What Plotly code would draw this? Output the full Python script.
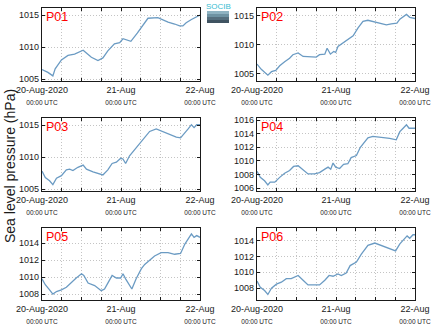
import datetime as dt
import plotly.graph_objects as go

START = dt.datetime(2020, 8, 20, 0, 0)

panel_names = ["P01", "P02", "P03", "P04", "P05", "P06"]

# hour offsets from 20-Aug-2020 00:00 UTC and sea level pressure (hPa)
p01_hours = [0, 1.8, 3.3, 4, 5.9, 7.9, 9.9, 12.5, 15, 17, 18.5, 20, 22, 23.6, 24.6, 27, 29, 31.2,
             32.2, 35.2, 38.3, 40.3, 41.8, 42.8, 43.8, 45.4, 46.9, 48]
p01_vals = [1006.5, 1006.05, 1005.5, 1006.6, 1008.0, 1008.7, 1008.9, 1009.5, 1008.4, 1007.9, 1008.3,
            1009.4, 1010.5, 1010.7, 1011.3, 1010.9, 1012.2, 1013.7, 1014.5, 1014.6, 1013.9, 1013.6,
            1013.3, 1013.3, 1013.8, 1014.3, 1014.7, 1015.0]

p02_hours = [0, 1.3, 3.3, 4.4, 5.7, 6.9, 8.4, 9.9, 10.9, 12.5, 14, 16, 18, 19, 20.6, 21.3, 22.3, 23.3,
             23.9, 24.6, 26.1, 28.1, 29.2, 30.7, 32.2, 33.7, 35.8, 37.8, 39.3, 40.8, 42.5, 43.4,
             45.4, 46.4, 48]
p02_vals = [1006.7, 1005.8, 1004.8, 1005.4, 1005.6, 1006.4, 1007.1, 1007.7, 1008.3, 1008.6, 1008.0,
            1008.0, 1007.9, 1008.3, 1008.4, 1009.4, 1008.4, 1008.85, 1008.7, 1009.7, 1010.3, 1011.1,
            1011.55, 1012.9, 1014.0, 1014.2, 1013.9, 1013.7, 1013.4, 1013.6, 1013.7, 1014.4,
            1015.2, 1014.7, 1014.5]

p03_hours = [0, 1, 2.3, 3.3, 4.4, 5.9, 7.4, 8.4, 9.4, 10.9, 12.5, 13.5, 15.5, 17.5, 18.5, 20, 21.3,
             22.6, 23.9, 24.6, 25.4, 26.6, 28.1, 29.6, 31.2, 32.7, 34.7, 36.7, 38.8, 40.8, 42.1,
             43.4, 44.4, 45.4, 46.2, 47, 48]
p03_vals = [1007.8, 1006.8, 1006.3, 1005.7, 1006.7, 1007.1, 1008.0, 1008.1, 1007.9, 1008.4, 1008.75,
            1008.1, 1007.7, 1007.3, 1007.2, 1008.0, 1009.0, 1009.2, 1009.8, 1009.7, 1009.0, 1010.2,
            1011.1, 1012.0, 1013.1, 1014.0, 1014.4, 1014.0, 1013.5, 1013.1, 1013.0, 1013.9, 1014.4,
            1015.05, 1014.6, 1015.05, 1015.05]

p04_hours = [0, 1, 2.3, 3.3, 4, 5.4, 6.9, 8.4, 9.9, 11.1, 12.5, 14, 15.5, 17.5, 19, 20.6, 21.6, 22.4,
             23.1, 23.9, 25.1, 26.3, 27.6, 28.6, 30.2, 31.4, 32.7, 33.7, 35.2, 37.8, 40.3, 42.3,
             43.4, 44.4, 45.4, 46.2, 48]
p04_vals = [1008.5, 1007.6, 1007.1, 1006.5, 1006.9, 1006.9, 1007.6, 1008.2, 1008.6, 1009.2, 1009.3,
            1008.7, 1008.1, 1008.1, 1008.3, 1008.8, 1009.1, 1008.8, 1009.7, 1009.1, 1008.9, 1009.5,
            1009.6, 1010.5, 1010.8, 1012.0, 1012.7, 1013.4, 1013.6, 1013.5, 1013.3, 1013.1, 1014.3,
            1014.8, 1015.3, 1014.8, 1014.8]

p05_hours = [0, 1, 2.3, 3.3, 4.4, 5.9, 7.4, 8.9, 10.4, 12, 12.7, 14, 16, 18, 19, 20, 21.3, 22.6, 23.9,
             24.6, 25.4, 27.3, 28.6, 30.2, 31.2, 32.7, 34.2, 36.2, 38.3, 40.3, 42.1, 43.4, 44.4,
             45.4, 46.2, 47, 48]
p05_vals = [1009.8, 1009.1, 1008.5, 1008.0, 1008.3, 1008.5, 1008.8, 1009.4, 1009.9, 1010.4, 1010.2,
            1009.3, 1009.0, 1008.4, 1008.6, 1009.3, 1010.2, 1009.9, 1009.9, 1010.4, 1009.8, 1008.6,
            1009.8, 1011.0, 1011.5, 1012.0, 1012.5, 1012.9, 1012.9, 1012.7, 1012.8, 1013.9, 1014.5,
            1015.1, 1014.7, 1014.9, 1014.7]

p06_hours = [0, 1, 2.3, 3.3, 4.4, 5.9, 7.4, 8.9, 10.4, 12.5, 14, 15.5, 17.5, 19, 20.6, 21.9, 23.1,
             24.6, 25.6, 27.1, 28.3, 30.2, 31.7, 33.7, 35.8, 37.8, 40.3, 42.1, 43.4, 44.4, 45.6,
             46.4, 47.4, 48]
p06_vals = [1008.9, 1008.1, 1007.7, 1007.2, 1008.0, 1008.5, 1008.75, 1009.2, 1009.2, 1009.6, 1009.0,
            1008.4, 1008.4, 1008.4, 1009.0, 1009.6, 1009.5, 1009.8, 1009.6, 1009.9, 1010.85, 1011.3,
            1012.3, 1013.4, 1013.7, 1013.4, 1012.95, 1012.7, 1013.6, 1014.0, 1014.6, 1014.3,
            1014.75, 1014.75]

series_hours = [p01_hours, p02_hours, p03_hours, p04_hours, p05_hours, p06_hours]
series_vals = [p01_vals, p02_vals, p03_vals, p04_vals, p05_vals, p06_vals]

y_ranges = [[1004.7, 1016.1], [1003.8, 1016.3], [1004.7, 1016.1],
            [1005.6, 1016.3], [1007.3, 1015.8], [1006.5, 1015.6]]
y_dticks = [5, 5, 5, 2, 2, 2]

x_tick_hours = [0, 6, 12, 18, 24, 30, 36, 42, 48]
x_tick_labels = {0: "20-Aug-2020", 24: "21-Aug", 48: "22-Aug"}

W, H = 434, 327
col_px = [(42, 200), (257, 415)]
row_px = [(8, 81), (118, 191), (228, 300)]

LINE = "#6b9bc3"
GRID = "#c4c4c4"
FONT = "Liberation Sans, Arial"

fig = go.Figure()

tickvals = [START + dt.timedelta(hours=h) for h in x_tick_hours]
ticktext = []
for h in x_tick_hours:
    if h in x_tick_labels:
        ticktext.append(x_tick_labels[h] + "<br><span style='font-size:6.5px'>00:00 UTC</span>")
    else:
        ticktext.append("")

for i in range(6):
    r, c = divmod(i, 2)
    n = "" if i == 0 else str(i + 1)
    times = [START + dt.timedelta(hours=h) for h in series_hours[i]]
    fig.add_trace(go.Scatter(x=times, y=series_vals[i], mode="lines",
                             line=dict(color=LINE, width=1.3),
                             xaxis="x" + n, yaxis="y" + n, showlegend=False))
    x0, x1 = col_px[c]
    y0, y1 = row_px[r]
    common = dict(showline=True, linecolor="#1a1a1a", linewidth=1.3, mirror="allticks",
                  ticks="inside", ticklen=3, tickcolor="#1a1a1a", tickwidth=1,
                  showgrid=True, gridcolor=GRID, griddash="1px,2px", gridwidth=1,
                  zeroline=False, automargin=False,
                  tickfont=dict(family=FONT, size=9, color="#1a1a1a"))
    fig.layout["xaxis" + n] = dict(
        domain=[x0 / W, x1 / W], anchor="y" + n, type="date",
        range=[START, START + dt.timedelta(hours=48)],
        tickmode="array", tickvals=tickvals, ticktext=ticktext, tickangle=0,
        **common)
    fig.layout["yaxis" + n] = dict(
        domain=[1 - y1 / H, 1 - y0 / H], anchor="x" + n,
        range=y_ranges[i], dtick=y_dticks[i], tick0=1000,
        **common)
    fig.add_annotation(text=panel_names[i], xref=f"x{n} domain", yref=f"y{n} domain",
                       x=0.01, y=1.0, xanchor="left", yanchor="top", showarrow=False,
                       font=dict(family=FONT, size=12.5, color="#ff0000"))

fig.add_annotation(text="Sea level pressure (hPa)", xref="paper", yref="paper",
                   x=10 / W, y=1 - 166 / H, textangle=-90, showarrow=False,
                   xanchor="center", yanchor="middle", borderpad=0,
                   font=dict(family=FONT, size=14, color="#1a1a1a"))

# logo
fig.add_annotation(text="SOCIB", xref="paper", yref="paper", x=218 / W, y=1 - 6 / H,
                   showarrow=False, xanchor="center", yanchor="middle",
                   font=dict(family=FONT, size=8, color="#38bcd0"))
logo_cols = ["#8fb3c2", "#6f93a3", "#566f7e", "#3f5361"]
for k, col in enumerate(logo_cols):
    fig.add_shape(type="rect", xref="paper", yref="paper",
                  x0=207 / W, x1=229 / W, y0=1 - (11 + 3 * (k + 1)) / H, y1=1 - (11 + 3 * k) / H,
                  fillcolor=col, line=dict(width=0))

fig.update_layout(template="none", width=W, height=H, margin=dict(l=0, r=0, t=0, b=0, pad=0),
                  paper_bgcolor="white", plot_bgcolor="white")

fig.write_html("out.html")
